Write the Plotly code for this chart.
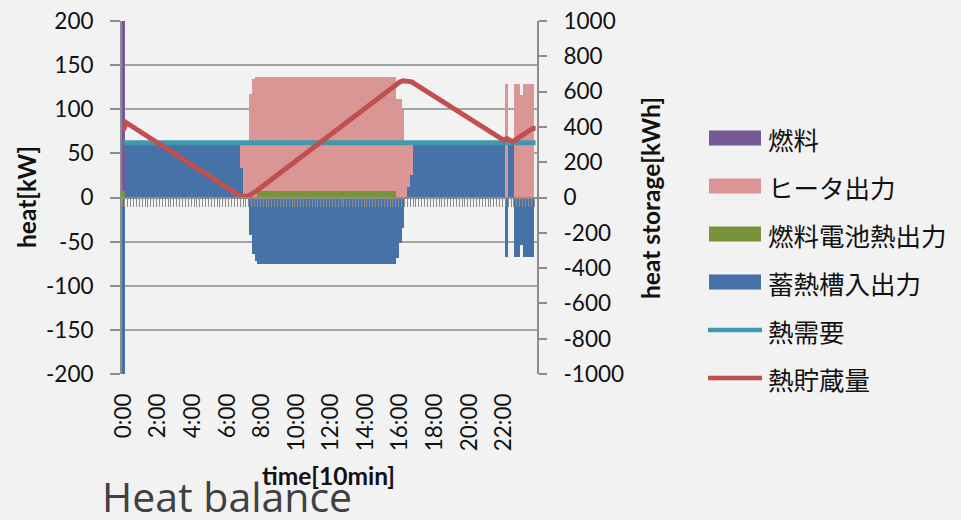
import plotly.graph_objects as go

# --- data: 144 ten-minute slots over one day -------------------------------
slots = list(range(144))
tick_slots = [0, 12, 24, 36, 48, 60, 72, 84, 96, 108, 120, 132]
tick_labels = ["0:00", "2:00", "4:00", "6:00", "8:00", "10:00",
               "12:00", "14:00", "16:00", "18:00", "20:00", "22:00"]

# heat flows [kW]
fuel = [300] + [0] * 143
heater = ([0] * 41 + [28, 62, 62, 117, 134, 137] + [130] * 48
          + [112, 112, 99, 62, 50, 37] + [0] * 32 + [129] + [0, 0]
          + [129, 129] + [116] + [129] * 4 + [0])
fc_heat = [7] + [0] * 46 + [7] * 48 + [0] * 49
tank_flow = ([-300] + [62] * 40 + [34, 0, 0, -43, -64, -72] + [-75] * 48
             + [-68, -51, -34, 0, 12, 25] + [62] * 32 + [-67] + [62, 62]
             + [-67, -67] + [-54] + [-67] * 4 + [0])
demand = [62] * 144

# stored heat [kWh], given at the slots where the trend changes
storage_slots = [0, 1, 40, 41, 43, 44, 45, 46, 94, 95, 96, 97, 98, 100,
                 132, 133, 135, 142, 143]
storage_kwh = [382, 424, 14, 8, 6, 13, 24, 36, 636, 647, 656, 661, 661, 655,
               324, 335, 315, 391, 391]

heat_ticks = [-200, -150, -100, -50, 0, 50, 100, 150, 200]
heat_tick_text = ["-200", "-150", "-100", "-50", "0", "50", "100", "150", "200"]
store_ticks = [-1000, -800, -600, -400, -200, 0, 200, 400, 600, 800, 1000]
store_tick_text = ["-1000", "-800", "-600", "-400", "-200", "0", "200",
                   "400", "600", "800", "1000"]

names = ["燃料", "ヒータ出力", "燃料電池熱出力", "蓄熱槽入出力", "熱需要", "熱貯蔵量"]
colors = ["#77599A", "#D99694", "#77933C", "#4572A7", "#4198AF", "#C0504D"]

# --- page geometry (pixels) -------------------------------------------------
W, H = 961, 520
L, R, T, B = 122, 537, 21, 374
GRID = "#A3A3A3"
AXIS = "#8C8C8C"
TICK_FONT = dict(family="Lato", size=22.5, color="#111111")


def px_x(px):
    return (px - L) / (R - L)


def px_y(py):
    return (B - py) / (B - T)


fig = go.Figure()

# stacked columns: bottom of the stack first
for vals, idx in [(tank_flow, 3), (fc_heat, 2), (heater, 1), (fuel, 0)]:
    fig.add_trace(go.Bar(x=slots, y=vals, name=names[idx],
                         marker=dict(color=colors[idx], line=dict(width=0)),
                         showlegend=False))

fig.add_trace(go.Scatter(x=slots, y=demand, name=names[4], mode="lines",
                         line=dict(color=colors[4], width=5),
                         showlegend=False))
fig.add_trace(go.Scatter(x=storage_slots, y=storage_kwh, name=names[5],
                         mode="lines", yaxis="y2",
                         line=dict(color=colors[5], width=5),
                         showlegend=False))
# carrier for the category axis that crosses at zero
fig.add_trace(go.Scatter(x=[0], y=[0], xaxis="x2", mode="markers",
                         marker=dict(opacity=0), hoverinfo="skip",
                         showlegend=False))

fig.update_layout(
    width=W, height=H,
    margin=dict(l=L, r=W - R, t=T, b=H - B, pad=0, autoexpand=False),
    paper_bgcolor="#F2F2F2", plot_bgcolor="#F2F2F2",
    barmode="relative", bargap=0,
    showlegend=False,
    xaxis=dict(range=[-0.5, 143.5], tickmode="array", tickvals=tick_slots,
               ticktext=tick_labels, tickangle=-90, ticks="",
               ticklabelstandoff=14, tickfont=TICK_FONT,
               showgrid=False, showline=False, zeroline=False,
               automargin=False),
    xaxis2=dict(overlaying="x", anchor="free", position=0.5,
                range=[-0.5, 143.5], tickmode="array",
                tickvals=[i - 0.5 for i in range(145)],
                ticks="outside", ticklen=8, tickwidth=1.3, tickcolor=AXIS,
                showticklabels=False, showline=True, linecolor=AXIS,
                linewidth=2, showgrid=False, zeroline=False),
    yaxis=dict(range=[-200, 200], tickmode="array", tickvals=heat_ticks,
               ticktext=heat_tick_text, ticks="outside", ticklen=10,
               tickwidth=2, tickcolor=AXIS, showline=True, linecolor=AXIS,
               linewidth=2, showgrid=True, gridcolor=GRID, gridwidth=2,
               zeroline=False, tickfont=TICK_FONT, ticklabelstandoff=12,
               automargin=False),
    yaxis2=dict(overlaying="y", side="right", range=[-1000, 1000],
                tickmode="array", tickvals=store_ticks,
                ticktext=store_tick_text, ticks="outside", ticklen=8,
                tickwidth=2, tickcolor=AXIS, showline=True, linecolor=AXIS,
                linewidth=2, showgrid=False, zeroline=False,
                tickfont=TICK_FONT, ticklabelstandoff=12, automargin=False),
)

TITLE_FONT = dict(family="Lato", size=24.5, color="#111111")
annotations = [
    dict(text="<b>heat[kW]</b>", x=px_x(26), y=px_y(197), textangle=-90,
         font=TITLE_FONT),
    dict(text="<b>heat storage[kWh]</b>", x=px_x(650), y=px_y(198),
         textangle=-90, font=TITLE_FONT),
    dict(text="<b>time[10min]</b>", x=px_x(328), y=px_y(475),
         font=TITLE_FONT),
    dict(text="Heat balance", x=px_x(100), y=px_y(496), xanchor="left",
         font=dict(family="Open Sans", size=41, color="#404040")),
]

# legend on the right
rows = [138, 186, 234, 282, 330, 378]
shapes = []
for i, (name, col, ry) in enumerate(zip(names, colors, rows)):
    if i < 4:
        shapes.append(dict(type="rect", xref="paper", yref="paper",
                           x0=px_x(709), x1=px_x(761),
                           y0=px_y(ry + 7.5), y1=px_y(ry - 7.5),
                           fillcolor=col, line=dict(width=0)))
    else:
        shapes.append(dict(type="line", xref="paper", yref="paper",
                           x0=px_x(708), x1=px_x(762),
                           y0=px_y(ry), y1=px_y(ry),
                           line=dict(color=col, width=4.5)))
    annotations.append(dict(text=name, x=px_x(766), y=px_y(ry),
                            xanchor="left",
                            font=dict(family="Noto Sans CJK JP", size=25.5,
                                      color="#111111")))

for a in annotations:
    a.setdefault("xref", "paper")
    a.setdefault("yref", "paper")
    a.setdefault("showarrow", False)
    a.setdefault("xanchor", "center")
    a.setdefault("yanchor", "middle")

fig.update_layout(annotations=annotations, shapes=shapes)

fig.write_html("out.html")
